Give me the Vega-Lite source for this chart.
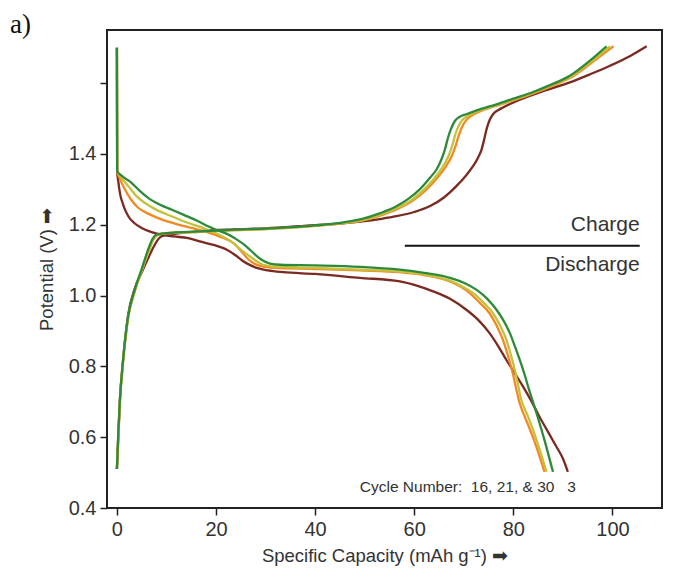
{
  "$schema": "https://vega.github.io/schema/vega-lite/v6.json",
  "width": 555,
  "height": 478,
  "autosize": {"type": "none"},
  "padding": {"left": 107, "top": 30, "right": 18, "bottom": 61},
  "background": "white",
  "title": {"text": "a)", "anchor": "start", "frame": "group", "font": "Liberation Serif", "fontSize": 27, "fontWeight": "normal", "color": "#111", "baseline": "alphabetic", "offset": 0, "dx": -97, "dy": 30},
  "datasets": {
    "curves": [
      {"c":"3","s":"ch","x":0,"y":0.51},{"c":"3","s":"ch","x":0.6,"y":0.705},{"c":"3","s":"ch","x":1.25,"y":0.82},{"c":"3","s":"ch","x":2.26,"y":0.945},{"c":"3","s":"ch","x":3.6,"y":1.02},{"c":"3","s":"ch","x":5.0,"y":1.065},{"c":"3","s":"ch","x":6.3,"y":1.105},{"c":"3","s":"ch","x":7.5,"y":1.14},{"c":"3","s":"ch","x":8.5,"y":1.162},{"c":"3","s":"ch","x":9.5,"y":1.17},{"c":"3","s":"ch","x":12,"y":1.175},{"c":"3","s":"ch","x":16.7,"y":1.182},{"c":"3","s":"ch","x":23.8,"y":1.187},{"c":"3","s":"ch","x":30,"y":1.19},{"c":"3","s":"ch","x":40,"y":1.199},{"c":"3","s":"ch","x":45,"y":1.203},{"c":"3","s":"ch","x":50,"y":1.21},{"c":"3","s":"ch","x":53,"y":1.216},{"c":"3","s":"ch","x":56.4,"y":1.224},{"c":"3","s":"ch","x":60,"y":1.236},{"c":"3","s":"ch","x":63.1,"y":1.252},{"c":"3","s":"ch","x":66,"y":1.277},{"c":"3","s":"ch","x":68.5,"y":1.309},{"c":"3","s":"ch","x":70.5,"y":1.34},{"c":"3","s":"ch","x":71.9,"y":1.366},{"c":"3","s":"ch","x":72.9,"y":1.39},{"c":"3","s":"ch","x":73.6,"y":1.413},{"c":"3","s":"ch","x":74.1,"y":1.44},{"c":"3","s":"ch","x":74.6,"y":1.47},{"c":"3","s":"ch","x":75.2,"y":1.495},{"c":"3","s":"ch","x":75.9,"y":1.512},{"c":"3","s":"ch","x":77,"y":1.524},{"c":"3","s":"ch","x":77.9,"y":1.531},{"c":"3","s":"ch","x":81.3,"y":1.553},{"c":"3","s":"ch","x":86,"y":1.577},{"c":"3","s":"ch","x":91.4,"y":1.602},{"c":"3","s":"ch","x":95.5,"y":1.625},{"c":"3","s":"ch","x":99.5,"y":1.649},{"c":"3","s":"ch","x":103.5,"y":1.676},{"c":"3","s":"ch","x":106.9,"y":1.704},
      {"c":"3","s":"dis","x":0,"y":1.70},{"c":"3","s":"dis","x":0.05,"y":1.352},{"c":"3","s":"dis","x":0.3,"y":1.32},{"c":"3","s":"dis","x":0.6,"y":1.29},{"c":"3","s":"dis","x":1.3,"y":1.255},{"c":"3","s":"dis","x":2.3,"y":1.224},{"c":"3","s":"dis","x":3.5,"y":1.205},{"c":"3","s":"dis","x":5.0,"y":1.191},{"c":"3","s":"dis","x":7,"y":1.179},{"c":"3","s":"dis","x":9.0,"y":1.172},{"c":"3","s":"dis","x":11.5,"y":1.167},{"c":"3","s":"dis","x":14.4,"y":1.162},{"c":"3","s":"dis","x":16.7,"y":1.153},{"c":"3","s":"dis","x":19.5,"y":1.143},{"c":"3","s":"dis","x":22.1,"y":1.13},{"c":"3","s":"dis","x":24,"y":1.113},{"c":"3","s":"dis","x":25.5,"y":1.097},{"c":"3","s":"dis","x":26.9,"y":1.086},{"c":"3","s":"dis","x":28.2,"y":1.078},{"c":"3","s":"dis","x":30.5,"y":1.071},{"c":"3","s":"dis","x":33.5,"y":1.066},{"c":"3","s":"dis","x":40,"y":1.061},{"c":"3","s":"dis","x":49,"y":1.05},{"c":"3","s":"dis","x":57.1,"y":1.04},{"c":"3","s":"dis","x":60.5,"y":1.028},{"c":"3","s":"dis","x":63.8,"y":1.012},{"c":"3","s":"dis","x":67.3,"y":0.99},{"c":"3","s":"dis","x":70.5,"y":0.96},{"c":"3","s":"dis","x":73,"y":0.93},{"c":"3","s":"dis","x":75.2,"y":0.894},{"c":"3","s":"dis","x":77,"y":0.856},{"c":"3","s":"dis","x":78.6,"y":0.818},{"c":"3","s":"dis","x":80.3,"y":0.78},{"c":"3","s":"dis","x":82.0,"y":0.742},{"c":"3","s":"dis","x":83.7,"y":0.70},{"c":"3","s":"dis","x":85.3,"y":0.657},{"c":"3","s":"dis","x":87.0,"y":0.615},{"c":"3","s":"dis","x":88.7,"y":0.573},{"c":"3","s":"dis","x":90,"y":0.54},{"c":"3","s":"dis","x":91.0,"y":0.502},

      {"c":"16","s":"ch","x":0,"y":0.51},{"c":"16","s":"ch","x":0.6,"y":0.70},{"c":"16","s":"ch","x":1.25,"y":0.815},{"c":"16","s":"ch","x":2.3,"y":0.94},{"c":"16","s":"ch","x":3.6,"y":1.012},{"c":"16","s":"ch","x":5,"y":1.07},{"c":"16","s":"ch","x":6.4,"y":1.125},{"c":"16","s":"ch","x":7.4,"y":1.16},{"c":"16","s":"ch","x":8.4,"y":1.172},{"c":"16","s":"ch","x":10,"y":1.176},{"c":"16","s":"ch","x":16.7,"y":1.18},{"c":"16","s":"ch","x":23.8,"y":1.185},{"c":"16","s":"ch","x":30,"y":1.188},{"c":"16","s":"ch","x":40,"y":1.197},{"c":"16","s":"ch","x":45,"y":1.203},{"c":"16","s":"ch","x":49.7,"y":1.212},{"c":"16","s":"ch","x":53,"y":1.225},{"c":"16","s":"ch","x":56.4,"y":1.243},{"c":"16","s":"ch","x":59.5,"y":1.266},{"c":"16","s":"ch","x":62.5,"y":1.30},{"c":"16","s":"ch","x":64.8,"y":1.335},{"c":"16","s":"ch","x":66.4,"y":1.365},{"c":"16","s":"ch","x":67.6,"y":1.395},{"c":"16","s":"ch","x":68.4,"y":1.425},{"c":"16","s":"ch","x":69.1,"y":1.457},{"c":"16","s":"ch","x":69.9,"y":1.483},{"c":"16","s":"ch","x":70.8,"y":1.50},{"c":"16","s":"ch","x":72,"y":1.512},{"c":"16","s":"ch","x":74,"y":1.524},{"c":"16","s":"ch","x":77,"y":1.538},{"c":"16","s":"ch","x":80.5,"y":1.553},{"c":"16","s":"ch","x":84.3,"y":1.572},{"c":"16","s":"ch","x":88,"y":1.593},{"c":"16","s":"ch","x":92.2,"y":1.621},{"c":"16","s":"ch","x":96.3,"y":1.663},{"c":"16","s":"ch","x":100.2,"y":1.704},
      {"c":"16","s":"dis","x":0,"y":1.70},{"c":"16","s":"dis","x":0.05,"y":1.352},{"c":"16","s":"dis","x":0.6,"y":1.33},{"c":"16","s":"dis","x":1.6,"y":1.30},{"c":"16","s":"dis","x":2.8,"y":1.272},{"c":"16","s":"dis","x":4.3,"y":1.248},{"c":"16","s":"dis","x":6.5,"y":1.23},{"c":"16","s":"dis","x":9.0,"y":1.215},{"c":"16","s":"dis","x":12,"y":1.202},{"c":"16","s":"dis","x":15.1,"y":1.191},{"c":"16","s":"dis","x":18,"y":1.18},{"c":"16","s":"dis","x":20.5,"y":1.168},{"c":"16","s":"dis","x":23.8,"y":1.145},{"c":"16","s":"dis","x":25.2,"y":1.123},{"c":"16","s":"dis","x":26.4,"y":1.104},{"c":"16","s":"dis","x":27.6,"y":1.091},{"c":"16","s":"dis","x":29.0,"y":1.083},{"c":"16","s":"dis","x":32,"y":1.078},{"c":"16","s":"dis","x":40,"y":1.075},{"c":"16","s":"dis","x":49,"y":1.071},{"c":"16","s":"dis","x":57.1,"y":1.066},{"c":"16","s":"dis","x":62,"y":1.058},{"c":"16","s":"dis","x":67.2,"y":1.04},{"c":"16","s":"dis","x":69.5,"y":1.024},{"c":"16","s":"dis","x":71.2,"y":1.007},{"c":"16","s":"dis","x":73.2,"y":0.98},{"c":"16","s":"dis","x":75.2,"y":0.95},{"c":"16","s":"dis","x":76.7,"y":0.913},{"c":"16","s":"dis","x":77.9,"y":0.875},{"c":"16","s":"dis","x":79.0,"y":0.826},{"c":"16","s":"dis","x":79.9,"y":0.78},{"c":"16","s":"dis","x":80.6,"y":0.735},{"c":"16","s":"dis","x":81.3,"y":0.695},{"c":"16","s":"dis","x":82.0,"y":0.668},{"c":"16","s":"dis","x":82.6,"y":0.648},{"c":"16","s":"dis","x":84.3,"y":0.587},{"c":"16","s":"dis","x":86.3,"y":0.502},

      {"c":"21","s":"ch","x":0,"y":0.51},{"c":"21","s":"ch","x":0.6,"y":0.70},{"c":"21","s":"ch","x":1.25,"y":0.815},{"c":"21","s":"ch","x":2.3,"y":0.94},{"c":"21","s":"ch","x":3.6,"y":1.012},{"c":"21","s":"ch","x":5,"y":1.07},{"c":"21","s":"ch","x":6.4,"y":1.125},{"c":"21","s":"ch","x":7.4,"y":1.16},{"c":"21","s":"ch","x":8.3,"y":1.172},{"c":"21","s":"ch","x":10,"y":1.176},{"c":"21","s":"ch","x":16.7,"y":1.18},{"c":"21","s":"ch","x":23.8,"y":1.185},{"c":"21","s":"ch","x":30,"y":1.188},{"c":"21","s":"ch","x":40,"y":1.197},{"c":"21","s":"ch","x":45,"y":1.204},{"c":"21","s":"ch","x":49.7,"y":1.214},{"c":"21","s":"ch","x":53,"y":1.228},{"c":"21","s":"ch","x":56.4,"y":1.247},{"c":"21","s":"ch","x":59.5,"y":1.27},{"c":"21","s":"ch","x":62,"y":1.30},{"c":"21","s":"ch","x":64,"y":1.33},{"c":"21","s":"ch","x":65.6,"y":1.36},{"c":"21","s":"ch","x":66.8,"y":1.39},{"c":"21","s":"ch","x":67.6,"y":1.42},{"c":"21","s":"ch","x":68.3,"y":1.455},{"c":"21","s":"ch","x":69.0,"y":1.48},{"c":"21","s":"ch","x":69.8,"y":1.497},{"c":"21","s":"ch","x":70.8,"y":1.508},{"c":"21","s":"ch","x":73.5,"y":1.524},{"c":"21","s":"ch","x":76.6,"y":1.538},{"c":"21","s":"ch","x":80,"y":1.553},{"c":"21","s":"ch","x":84,"y":1.573},{"c":"21","s":"ch","x":87.5,"y":1.593},{"c":"21","s":"ch","x":91.8,"y":1.621},{"c":"21","s":"ch","x":95.9,"y":1.663},{"c":"21","s":"ch","x":99.5,"y":1.704},
      {"c":"21","s":"dis","x":0,"y":1.70},{"c":"21","s":"dis","x":0.05,"y":1.352},{"c":"21","s":"dis","x":0.8,"y":1.335},{"c":"21","s":"dis","x":2.3,"y":1.309},{"c":"21","s":"dis","x":3.8,"y":1.283},{"c":"21","s":"dis","x":5.6,"y":1.262},{"c":"21","s":"dis","x":8,"y":1.242},{"c":"21","s":"dis","x":11,"y":1.224},{"c":"21","s":"dis","x":14,"y":1.207},{"c":"21","s":"dis","x":17.7,"y":1.189},{"c":"21","s":"dis","x":20,"y":1.176},{"c":"21","s":"dis","x":23.4,"y":1.149},{"c":"21","s":"dis","x":25,"y":1.13},{"c":"21","s":"dis","x":26.8,"y":1.111},{"c":"21","s":"dis","x":28.2,"y":1.097},{"c":"21","s":"dis","x":29.5,"y":1.087},{"c":"21","s":"dis","x":32,"y":1.082},{"c":"21","s":"dis","x":40,"y":1.078},{"c":"21","s":"dis","x":49,"y":1.073},{"c":"21","s":"dis","x":57.1,"y":1.068},{"c":"21","s":"dis","x":62,"y":1.06},{"c":"21","s":"dis","x":67.2,"y":1.042},{"c":"21","s":"dis","x":69.8,"y":1.025},{"c":"21","s":"dis","x":71.9,"y":1.007},{"c":"21","s":"dis","x":74,"y":0.98},{"c":"21","s":"dis","x":75.9,"y":0.95},{"c":"21","s":"dis","x":77.4,"y":0.913},{"c":"21","s":"dis","x":78.6,"y":0.875},{"c":"21","s":"dis","x":79.5,"y":0.833},{"c":"21","s":"dis","x":80.3,"y":0.79},{"c":"21","s":"dis","x":81.0,"y":0.745},{"c":"21","s":"dis","x":81.6,"y":0.705},{"c":"21","s":"dis","x":82.3,"y":0.68},{"c":"21","s":"dis","x":83.0,"y":0.657},{"c":"21","s":"dis","x":84.7,"y":0.591},{"c":"21","s":"dis","x":86.7,"y":0.502},

      {"c":"30","s":"ch","x":0,"y":0.51},{"c":"30","s":"ch","x":0.3,"y":0.62},{"c":"30","s":"ch","x":0.6,"y":0.705},{"c":"30","s":"ch","x":1.25,"y":0.818},{"c":"30","s":"ch","x":2.26,"y":0.941},{"c":"30","s":"ch","x":3.6,"y":1.016},{"c":"30","s":"ch","x":4.96,"y":1.073},{"c":"30","s":"ch","x":6.3,"y":1.13},{"c":"30","s":"ch","x":7.2,"y":1.16},{"c":"30","s":"ch","x":8.0,"y":1.172},{"c":"30","s":"ch","x":10,"y":1.176},{"c":"30","s":"ch","x":16.7,"y":1.181},{"c":"30","s":"ch","x":23.8,"y":1.186},{"c":"30","s":"ch","x":30,"y":1.189},{"c":"30","s":"ch","x":40,"y":1.198},{"c":"30","s":"ch","x":45,"y":1.205},{"c":"30","s":"ch","x":49.7,"y":1.217},{"c":"30","s":"ch","x":53,"y":1.232},{"c":"30","s":"ch","x":56.4,"y":1.252},{"c":"30","s":"ch","x":59,"y":1.275},{"c":"30","s":"ch","x":61.1,"y":1.30},{"c":"30","s":"ch","x":63,"y":1.33},{"c":"30","s":"ch","x":64.5,"y":1.356},{"c":"30","s":"ch","x":65.5,"y":1.385},{"c":"30","s":"ch","x":66.2,"y":1.413},{"c":"30","s":"ch","x":66.8,"y":1.445},{"c":"30","s":"ch","x":67.4,"y":1.47},{"c":"30","s":"ch","x":68.2,"y":1.493},{"c":"30","s":"ch","x":69.2,"y":1.505},{"c":"30","s":"ch","x":70.5,"y":1.512},{"c":"30","s":"ch","x":73.5,"y":1.527},{"c":"30","s":"ch","x":76.6,"y":1.54},{"c":"30","s":"ch","x":80,"y":1.556},{"c":"30","s":"ch","x":84,"y":1.575},{"c":"30","s":"ch","x":87.5,"y":1.595},{"c":"30","s":"ch","x":91.4,"y":1.621},{"c":"30","s":"ch","x":95.4,"y":1.663},{"c":"30","s":"ch","x":98.8,"y":1.704},
      {"c":"30","s":"dis","x":0,"y":1.70},{"c":"30","s":"dis","x":0.05,"y":1.352},{"c":"30","s":"dis","x":1.0,"y":1.338},{"c":"30","s":"dis","x":2.9,"y":1.319},{"c":"30","s":"dis","x":4.5,"y":1.297},{"c":"30","s":"dis","x":6.3,"y":1.276},{"c":"30","s":"dis","x":8.5,"y":1.258},{"c":"30","s":"dis","x":11,"y":1.243},{"c":"30","s":"dis","x":13.5,"y":1.228},{"c":"30","s":"dis","x":16.4,"y":1.21},{"c":"30","s":"dis","x":18.5,"y":1.195},{"c":"30","s":"dis","x":20.5,"y":1.183},{"c":"30","s":"dis","x":22.1,"y":1.175},{"c":"30","s":"dis","x":24,"y":1.16},{"c":"30","s":"dis","x":26.1,"y":1.139},{"c":"30","s":"dis","x":27.8,"y":1.117},{"c":"30","s":"dis","x":29.2,"y":1.101},{"c":"30","s":"dis","x":30.9,"y":1.09},{"c":"30","s":"dis","x":33,"y":1.087},{"c":"30","s":"dis","x":40,"y":1.085},{"c":"30","s":"dis","x":49,"y":1.081},{"c":"30","s":"dis","x":57.1,"y":1.073},{"c":"30","s":"dis","x":62,"y":1.064},{"c":"30","s":"dis","x":67.2,"y":1.05},{"c":"30","s":"dis","x":70,"y":1.036},{"c":"30","s":"dis","x":72.6,"y":1.016},{"c":"30","s":"dis","x":74.8,"y":0.99},{"c":"30","s":"dis","x":76.6,"y":0.96},{"c":"30","s":"dis","x":78,"y":0.93},{"c":"30","s":"dis","x":79.3,"y":0.894},{"c":"30","s":"dis","x":80.3,"y":0.857},{"c":"30","s":"dis","x":81.3,"y":0.818},{"c":"30","s":"dis","x":82.2,"y":0.78},{"c":"30","s":"dis","x":83.0,"y":0.742},{"c":"30","s":"dis","x":84.7,"y":0.667},{"c":"30","s":"dis","x":86.3,"y":0.591},{"c":"30","s":"dis","x":88.0,"y":0.502}
    ],
    "labels": [
      {"x": 105.5, "y": 1.198, "t": "Charge"},
      {"x": 105.5, "y": 1.087, "t": "Discharge"}
    ],
    "cycle": [
      {"x": 88.3, "y": 0.458, "t": "Cycle Number:\u00a0\u00a016, 21, & 30"},
      {"x": 92.6, "y": 0.458, "t": "3"}
    ],
    "divider": [
      {"x": 58.1, "x2": 105.5, "y": 1.141}
    ]
  },
  "encoding": {
    "x": {
      "field": "x", "type": "quantitative",
      "scale": {"domain": [-2, 110], "nice": false, "zero": false},
      "axis": {"values": [0, 20, 40, 60, 80, 100], "title": "Specific Capacity (mAh g⁻¹) ➡", "titlePadding": 7}
    },
    "y": {
      "field": "y", "type": "quantitative",
      "scale": {"domain": [0.4, 1.75], "nice": false, "zero": false},
      "axis": {"values": [0.4, 0.6, 0.8, 1.0, 1.2, 1.4, 1.6], "labelExpr": "datum.value > 1.5 ? '' : format(datum.value, '.1f')", "title": "Potential (V) ➡", "titlePadding": 12}
    }
  },
  "layer": [
    {"data": {"name": "curves"}, "transform": [{"filter": "datum.c == '3'"}], "mark": {"type": "line", "interpolate": "monotone", "color": "#7a2a20", "strokeWidth": 2.3}, "encoding": {"detail": {"field": "s"}}},
    {"data": {"name": "curves"}, "transform": [{"filter": "datum.c == '16'"}], "mark": {"type": "line", "interpolate": "monotone", "color": "#f28a22", "strokeWidth": 2.3}, "encoding": {"detail": {"field": "s"}}},
    {"data": {"name": "curves"}, "transform": [{"filter": "datum.c == '21'"}], "mark": {"type": "line", "interpolate": "monotone", "color": "#c4c23c", "strokeWidth": 2.3}, "encoding": {"detail": {"field": "s"}}},
    {"data": {"name": "curves"}, "transform": [{"filter": "datum.c == '30'"}], "mark": {"type": "line", "interpolate": "monotone", "color": "#2e8a3a", "strokeWidth": 2.3}, "encoding": {"detail": {"field": "s"}}},
    {"data": {"name": "divider"}, "mark": {"type": "rule", "color": "#111", "strokeWidth": 2}, "encoding": {"x2": {"field": "x2"}}},
    {"data": {"name": "labels"}, "mark": {"type": "text", "align": "right", "baseline": "middle", "font": "Liberation Sans", "fontSize": 21, "color": "#333"}, "encoding": {"text": {"field": "t"}}},
    {"data": {"name": "cycle"}, "mark": {"type": "text", "align": "right", "baseline": "middle", "font": "Liberation Sans", "fontSize": 15.5, "color": "#333"}, "encoding": {"text": {"field": "t"}}}
  ],
  "config": {
    "view": {"stroke": "#222", "strokeWidth": 2},
    "axis": {
      "domain": false, "grid": false,
      "ticks": true, "tickColor": "#222", "tickWidth": 1.5, "tickSize": 7,
      "labelFont": "Liberation Sans", "labelFontSize": 20, "labelColor": "#333", "labelPadding": 4,
      "titleFont": "Liberation Sans", "titleFontSize": 18.5, "titleFontWeight": "normal", "titleColor": "#333"
    }
  }
}
